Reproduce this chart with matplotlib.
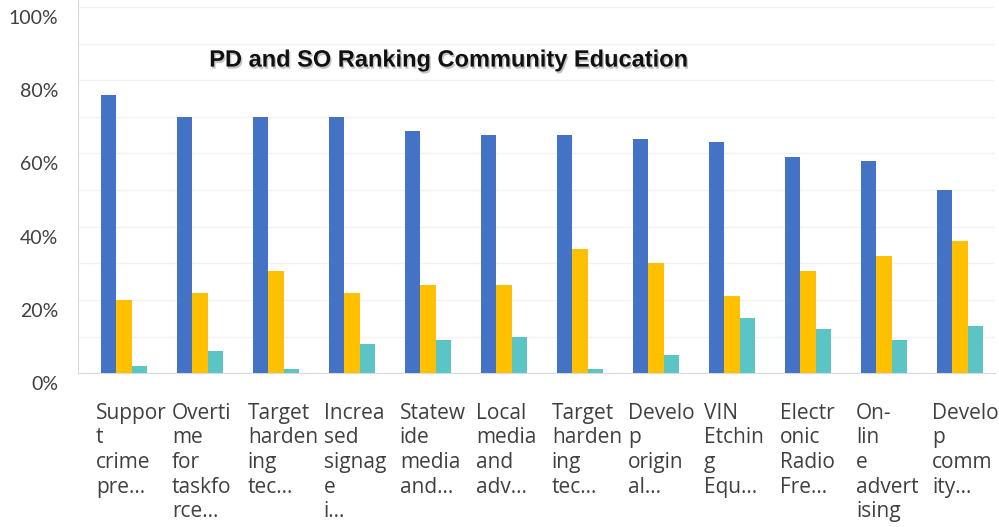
import matplotlib
matplotlib.use("Agg")
import matplotlib.pyplot as plt
import matplotlib.transforms as mtransforms
import matplotlib.patheffects as pe
import numpy as np

# category labels, wrapped the way the original chart wraps them
categories = [
    "Suppor\nt\ncrime\npre...",
    "Overti\nme\nfor\ntaskfo\nrce...",
    "Target\nharden\ning\ntec...",
    "Increa\nsed\nsignag\ne\ni...",
    "Statew\nide\nmedia\nand...",
    "Local\nmedia\nand\nadv...",
    "Target\nharden\ning\ntec...",
    "Develo\np\norigin\nal...",
    "VIN\nEtchin\ng\nEqu...",
    "Electr\nonic\nRadio\nFre...",
    "On-\nlin\ne\nadvert\nising",
    "Develo\np\ncomm\nity...",
]

# percentages
series_a = [76, 70, 70, 70, 66, 65, 65, 64, 63, 59, 58, 50]
series_b = [20, 22, 28, 22, 24, 24, 34, 30, 21, 28, 32, 36]
series_c = [2, 6, 1, 8, 9, 10, 1, 5, 15, 12, 9, 13]

yticks = [0, 20, 40, 60, 80, 100]
ytick_labels = ["0%", "20%", "40%", "60%", "80%", "100%"]

colors = ["#4472C4", "#FFC000", "#5BC4C4"]

fig = plt.figure(figsize=(9.99, 5.27), dpi=100)
ax = fig.add_axes([0.078, 0.292, 0.918, 0.708])

x = np.arange(len(categories))
w = 0.2
ax.bar(x - w, series_a, w, color=colors[0], zorder=3)
ax.bar(x, series_b, w, color=colors[1], zorder=3)
ax.bar(x + w, series_c, w, color=colors[2], zorder=3)

ax.set_xlim(-0.605, 11.46)
ax.set_ylim(0, 101.9)

# faint gridlines
for g in range(10, 101, 10):
    ax.axhline(g, color="#f2f2f2", lw=1, zorder=0)

ax.set_yticks(yticks)
ax.set_yticklabels(ytick_labels, fontsize=14, color="#404040", family="Lato")
ax.tick_params(axis="y", length=0, pad=14)
shift = mtransforms.ScaledTranslation(0, -0.1, fig.dpi_scale_trans)
for lab in ax.get_yticklabels():
    lab.set_transform(lab.get_transform() + shift)

ax.set_xticks([])
for i, lab in enumerate(categories):
    ax.text(i - 0.37, -0.08, lab, transform=ax.get_xaxis_transform(),
            ha="left", va="top", fontsize=15, color="#404040",
            family="Open Sans", linespacing=1.22)

for side in ["top", "right"]:
    ax.spines[side].set_visible(False)
ax.spines["left"].set_color("#d9d9d9")
ax.spines["bottom"].set_color("#d9d9d9")

ax.text(0.405, 0.839, "PD and SO Ranking Community Education",
        transform=ax.transAxes, ha="center", va="center",
        fontsize=17, fontweight="bold", family="Liberation Sans", color="#111111",
        path_effects=[pe.SimplePatchShadow(offset=(1, -1.5), shadow_rgbFace="#888888", alpha=0.5),
                      pe.Normal()])

fig.savefig("out.png", dpi=100)
